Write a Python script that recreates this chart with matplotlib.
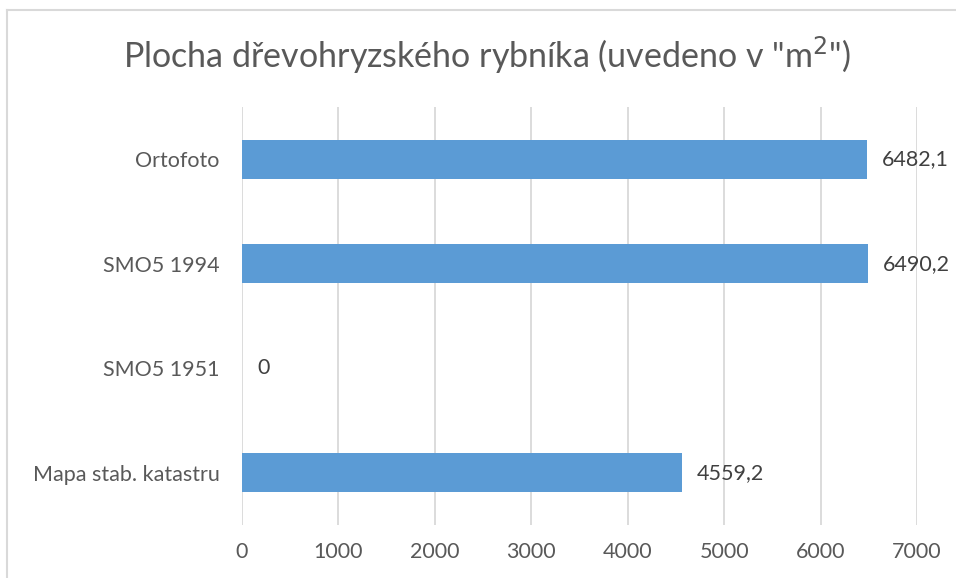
import matplotlib
matplotlib.use("Agg")
import matplotlib.pyplot as plt
from matplotlib.lines import Line2D

categories = ["Mapa stab. katastru", "SMO5 1951", "SMO5 1994", "Ortofoto"]
values = [4559.2, 0, 6490.2, 6482.1]
value_labels = ["4559,2", "0", "6490,2", "6482,1"]
xticks = [0, 1000, 2000, 3000, 4000, 5000, 6000, 7000]

plt.rcParams['font.family'] = ['Lato', 'DejaVu Sans']
text_color = "#595959"
grid_color = "#d9d9d9"
bar_color = "#5b9bd5"

fig = plt.figure(figsize=(9.56, 5.78), dpi=100)
ax = fig.add_axes([0.2531, 0.0917, 0.7061, 0.7232])

ypos = list(range(len(categories)))
ax.barh(ypos, values, height=0.37, color=bar_color, zorder=3)
ax.set_xlim(0, 7000)
ax.set_ylim(-0.5, 3.5)
ax.set_xticks(xticks)
ax.set_xticklabels([str(t) for t in xticks])
ax.set_yticks(ypos)
ax.set_yticklabels(categories)
ax.tick_params(axis='both', length=0, colors=text_color, labelsize=15.5)
ax.tick_params(axis='x', pad=12)
ax.tick_params(axis='y', pad=16)
ax.grid(axis='x', color=grid_color, linewidth=1.3, zorder=0)
for s in ax.spines.values():
    s.set_visible(False)

for y, v, lab in zip(ypos, values, value_labels):
    ax.annotate(lab, (v, y), xytext=(11, 0), textcoords='offset points',
                ha='left', va='center', fontsize=15.5, color="#404040")

fig.text(0.509, 0.905, 'Plocha dřevohryzského rybníka (uvedeno v "m$^2$")',
         ha='center', va='center', fontsize=24.5, color=text_color)

fig.add_artist(Line2D([7/956, 7/956], [0, 1 - 10/578], transform=fig.transFigure,
                      color="#d9d9d9", linewidth=1.5))
fig.add_artist(Line2D([7/956, 1], [1 - 10/578, 1 - 10/578], transform=fig.transFigure,
                      color="#d9d9d9", linewidth=1.5))

fig.savefig("out.png", dpi=100, facecolor="white")
